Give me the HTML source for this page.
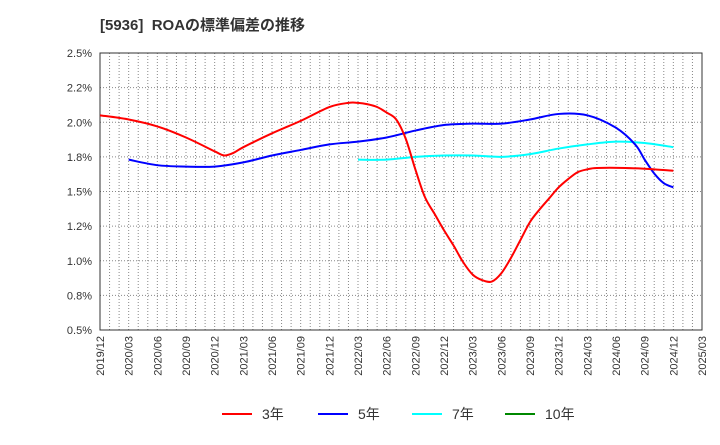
<!DOCTYPE html>
<html><head><meta charset="utf-8"><style>
body{margin:0;background:#fff;font-family:"Liberation Sans","Noto Sans CJK JP",sans-serif;}
svg text{font-family:"Liberation Sans","Noto Sans CJK JP",sans-serif;fill:#333;}
</style></head><body>
<svg id="c" width="720" height="440">
<text x="100" y="30" font-size="15" font-weight="bold">[5936]&#160;&#160;ROAの標準偏差の推移</text>
<g id="grid"></g>
<g id="axes"></g>
<g id="series"></g>
<g>
<g><line x1="222" y1="414" x2="252" y2="414" stroke="#f00" stroke-width="2"/><text x="262" y="419" font-size="14">3年</text></g>
<g><line x1="318" y1="414" x2="348" y2="414" stroke="#00f" stroke-width="2"/><text x="358" y="419" font-size="14">5年</text></g>
<g><line x1="412" y1="414" x2="442" y2="414" stroke="#0ff" stroke-width="2"/><text x="452" y="419" font-size="14">7年</text></g>
<g><line x1="505" y1="414" x2="535" y2="414" stroke="#080" stroke-width="2"/><text x="545" y="419" font-size="14">10年</text></g>
</g>
</svg>
<script>
const xLabels=["2019/12","2020/03","2020/06","2020/09","2020/12","2021/03","2021/06","2021/09","2021/12","2022/03","2022/06","2022/09","2022/12","2023/03","2023/06","2023/09","2023/12","2024/03","2024/06","2024/09","2024/12","2025/03"];
const yTicks=[0.5,0.75,1.0,1.25,1.5,1.75,2.0,2.25,2.5];
const yTickLabels=["0.5%","0.8%","1.0%","1.2%","1.5%","1.8%","2.0%","2.2%","2.5%"];
const m3=[0,3,6,9,12,13,14,15,18,21,24,26,27,28,29,30,31,32,33,34,35,36,37,38,39,40,41,42,43,44,45,46,47,48,49,50,51,52,55,58,60];
const v3=[2.05,2.02,1.97,1.89,1.79,1.76,1.78,1.82,1.92,2.01,2.11,2.14,2.14,2.13,2.11,2.07,2.02,1.88,1.66,1.46,1.34,1.22,1.11,0.99,0.90,0.86,0.85,0.91,1.02,1.15,1.28,1.37,1.45,1.53,1.59,1.64,1.66,1.67,1.67,1.66,1.65];
const m5=[3,6,9,12,15,18,21,24,27,30,33,36,39,42,45,48,51,54,56,57,58,59,60];
const v5=[1.73,1.69,1.68,1.68,1.71,1.76,1.80,1.84,1.86,1.89,1.94,1.98,1.99,1.99,2.02,2.06,2.05,1.96,1.84,1.73,1.63,1.56,1.53];
const m7=[27,30,33,36,39,42,45,48,51,54,57,60];
const v7=[1.73,1.73,1.75,1.76,1.76,1.75,1.77,1.81,1.84,1.86,1.85,1.82];
const L=100,R=702,T=53,B=330,NS="http://www.w3.org/2000/svg";
const xm=m=>L+(R-L)*m/63, yv=v=>B-(v-0.5)/2*(B-T);
function mk(p,t,a){const e=document.createElementNS(NS,t);for(const k in a)e.setAttribute(k,a[k]);p.appendChild(e);return e;}
const g=document.getElementById('grid'),ax=document.getElementById('axes'),s=document.getElementById('series');
for(let m=1;m<63;m++){const l=mk(g,'line',{x1:xm(m),x2:xm(m),y1:T,y2:B,stroke:'#888','stroke-dasharray':'1,2','stroke-width':1});

}
yTicks.forEach((v,i)=>{const l=mk(g,'line',{x1:L,x2:R,y1:yv(v),y2:yv(v),stroke:'#888','stroke-dasharray':'1,2'});


const t=mk(ax,'text',{x:92,y:yv(v)+4,'text-anchor':'end','font-size':11});t.textContent=yTickLabels[i];

});
const fr=mk(ax,'rect',{x:L,y:T,width:R-L,height:B-T,fill:'none',stroke:'#333'});


xLabels.forEach((lb,i)=>{const x=xm(i*3);const t=mk(ax,'text',{x:0,y:0,'text-anchor':'end','font-size':11,transform:`translate(${x+4},${B+6}) rotate(-90)`});t.textContent=lb;

});
function line(ms,vs,c,n){const P=ms.map((m,i)=>[xm(m),yv(vs[i])]);let d='M'+P[0][0]+','+P[0][1];
for(let i=0;i<P.length-1;i++){const p0=P[Math.max(i-1,0)],p1=P[i],p2=P[i+1],p3=P[Math.min(i+2,P.length-1)];
const c1=[p1[0]+(p2[0]-p0[0])/6,p1[1]+(p2[1]-p0[1])/6],c2=[p2[0]-(p3[0]-p1[0])/6,p2[1]-(p3[1]-p1[1])/6];
d+=` C${c1[0]},${c1[1]} ${c2[0]},${c2[1]} ${p2[0]},${p2[1]}`;}
const p=mk(s,'path',{d:d,fill:'none',stroke:c,'stroke-width':2,'stroke-linejoin':'round'});

}
line(m7,v7,'#0ff','line-7y');line(m5,v5,'#00f','line-5y');line(m3,v3,'#f00','line-3y');
</script>
</body></html>
